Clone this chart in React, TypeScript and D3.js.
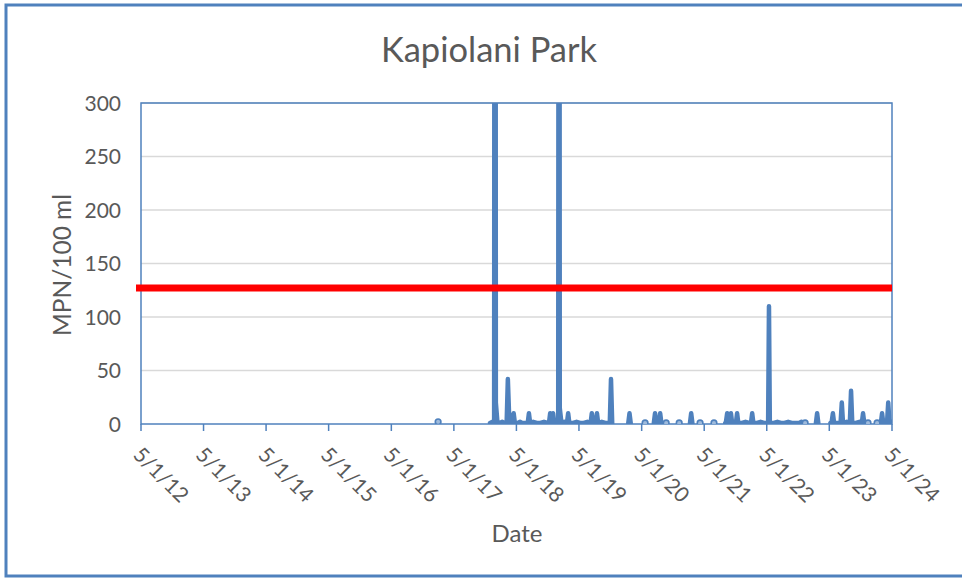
import React, { Component } from "react";
import * as d3 from "d3";

// enterococcus samples, null = no sample (gap in the line)
const sampleDates = [
	"2017-01-29", "2017-06-01",
	"2017-11-28", "2017-12-12", "2017-12-22", "2017-12-27", "2018-01-01", "2018-01-10", "2018-01-24", "2018-02-07",
	"2018-02-21", "2018-03-05", "2018-03-12", "2018-03-19", "2018-03-26", "2018-04-09", "2018-04-15", "2018-04-22",
	"2018-05-08", "2018-05-22", "2018-06-05", "2018-06-19", "2018-07-06", "2018-07-13", "2018-07-20", "2018-08-07",
	"2018-08-28", "2018-09-18", "2018-10-09", "2018-10-30", "2018-11-07", "2018-11-14", "2018-11-21", "2018-12-01",
	"2018-12-08", "2018-12-31", "2019-01-05", "2019-01-09", "2019-01-19", "2019-02-05", "2019-02-20", "2019-02-27",
	"2019-03-06", "2019-03-27", "2019-04-17", "2019-05-08", "2019-05-29", "2019-06-19", "2019-07-08", "2019-07-15",
	"2019-07-22", "2019-08-07", "2019-08-14", "2019-08-21", "2019-09-11", "2019-10-02", "2019-10-23", "2019-10-28",
	"2019-11-04", "2019-11-11", "2019-12-15",
	"2020-02-13", "2020-02-20", "2020-02-27", "2020-04-01",
	"2020-05-21", "2020-06-20",
	"2020-07-11", "2020-07-18", "2020-07-25", "2020-08-10", "2020-08-17", "2020-08-24", "2020-09-05",
	"2020-09-21", "2020-10-20",
	"2020-12-06", "2021-01-10",
	"2021-02-07", "2021-02-14", "2021-02-21", "2021-03-10",
	"2021-04-07", "2021-05-10",
	"2021-06-27", "2021-08-01",
	"2021-09-01", "2021-09-05", "2021-09-12", "2021-09-19", "2021-09-27", "2021-10-04", "2021-10-11", "2021-10-25",
	"2021-11-02", "2021-11-09", "2021-11-16", "2021-12-07", "2021-12-28", "2022-01-18", "2022-01-29", "2022-02-05",
	"2022-02-12", "2022-03-05", "2022-03-26", "2022-04-16", "2022-05-09", "2022-05-14", "2022-05-19", "2022-06-11",
	"2022-07-02", "2022-07-23", "2022-08-13", "2022-09-03", "2022-09-24", "2022-10-15", "2022-11-05", "2022-11-19",
	"2022-11-30",
	"2022-12-11", "2023-01-10",
	"2023-02-12", "2023-02-19", "2023-02-26", "2023-04-01",
	"2023-05-08", "2023-05-15", "2023-05-22", "2023-05-29", "2023-06-19", "2023-07-06", "2023-07-13", "2023-07-20",
	"2023-08-10", "2023-08-29", "2023-09-05", "2023-09-12", "2023-10-03", "2023-10-24", "2023-11-07", "2023-11-14",
	"2023-11-21", "2023-12-01",
	"2023-12-13", "2024-01-10",
	"2024-02-04", "2024-02-15",
	"2024-02-26", "2024-03-04", "2024-03-11", "2024-03-25", "2024-04-02", "2024-04-09", "2024-04-16", "2024-04-30",
];

const mpnValues = [
	2, null,
	1, 2, 1, 1700, 20, 2, 1, 2,
	1, 1, 42, 10, 1, 2, 10, 1,
	1, 2, 1, 1, 1, 10, 1, 2,
	1, 1, 2, 1, 1, 10, 1, 10,
	1, 1, 1400, 15, 1, 2, 1, 10,
	1, 1, 2, 1, 1, 2, 1, 10,
	1, 1, 10, 1, 2, 1, 1, 1,
	42, 1, null,
	1, 10, 1, null,
	1, null,
	1, 10, 1, 1, 10, 1, null,
	1, null,
	1, null,
	1, 10, 1, null,
	1, null,
	1, null,
	1, 2, 10, 1, 1, 10, 1, 2,
	1, 10, 1, 1, 2, 1, 1, 10,
	1, 1, 2, 1, 1, 110, 1, 1,
	2, 1, 1, 2, 1, 1, 1, 2,
	null,
	1, null,
	1, 10, 1, null,
	1, 2, 10, 1, 1, 1, 20, 1,
	2, 1, 31, 1, 1, 2, 1, 10,
	1, null,
	1, null,
	1, null,
	1, 10, 1, 2, 1, 20, 1, 2,
];

const tickDates = [
	"2012-05-01", "2013-05-01", "2014-05-01", "2015-05-01", "2016-05-01", "2017-05-01", "2018-05-01",
	"2019-05-01", "2020-05-01", "2021-05-01", "2022-05-01", "2023-05-01", "2024-05-01",
];
const yTicks = [0, 50, 100, 150, 200, 250, 300];
const standardLimit = 127;

const blue = "#4f81bd";
const textColor = "#595959";
const font = "Lato, 'Open Sans', sans-serif";

class App extends Component {
	svgRef = React.createRef<SVGSVGElement>();

	componentDidMount() {
		this.draw();
	}

	draw() {
		const svg = d3.select(this.svgRef.current);
		svg.selectAll("*").remove();
		const left = 141, right = 892, top = 103, bottom = 424;
		const parse = d3.timeParse("%Y-%m-%d");

		const x = d3.scaleTime()
			.domain([parse(tickDates[0]), parse(tickDates[tickDates.length - 1])])
			.range([left, right]);
		const y = d3.scaleLinear().domain([0, 300]).range([bottom, top]);

		const data = sampleDates.map((d, i) => ({ date: parse(d), v: mpnValues[i] }));
		// lone samples only show up as a marker
		const lone = data.filter((d, i) =>
			d.v != null &&
			(i === 0 || data[i - 1].v == null) &&
			(i === data.length - 1 || data[i + 1].v == null));

		// outer chart frame
		svg.append("rect")
			.attr("x", 6).attr("y", 5)
			.attr("width", 1000).attr("height", 571)
			.attr("fill", "white")
			.attr("stroke", blue)
			.attr("stroke-width", 3);

		svg.append("text")
			.attr("x", 489).attr("y", 62)
			.attr("text-anchor", "middle")
			.attr("font-family", font)
			.attr("font-size", 34.5)
			.attr("fill", textColor)
			.text("Kapiolani Park");

		// gridlines
		svg.append("g")
			.selectAll("line")
			.data(yTicks.slice(1))
			.enter()
			.append("line")
			.attr("x1", left).attr("x2", right)
			.attr("y1", (d) => y(d)).attr("y2", (d) => y(d))
			.attr("stroke", "#d9d9d9")
			.attr("stroke-width", 1.5);

		svg.append("g")
			.selectAll("text")
			.data(yTicks)
			.enter()
			.append("text")
			.attr("x", 121)
			.attr("y", (d) => y(d) + 7.5)
			.attr("text-anchor", "end")
			.attr("font-family", font)
			.attr("font-size", 21)
			.attr("fill", textColor)
			.text((d) => d);

		// x ticks
		const xt = svg.append("g");
		xt.selectAll("line")
			.data(tickDates)
			.enter()
			.append("line")
			.attr("x1", (d) => x(parse(d))).attr("x2", (d) => x(parse(d)))
			.attr("y1", bottom).attr("y2", bottom + 7)
			.attr("stroke", blue)
			.attr("stroke-width", 1.5);
		xt.selectAll("text")
			.data(tickDates)
			.enter()
			.append("text")
			.attr("transform", (d) => `translate(${x(parse(d)) - 9},${bottom + 32}) rotate(45)`)
			.attr("font-family", font)
			.attr("font-size", 21)
			.attr("fill", textColor)
			.text((d) => d3.timeFormat("%-m/%-d/%y")(parse(d)));

		svg.append("text")
			.attr("x", 517).attr("y", 542)
			.attr("text-anchor", "middle")
			.attr("font-family", font)
			.attr("font-size", 24)
			.attr("fill", textColor)
			.text("Date");

		svg.append("text")
			.attr("transform", "translate(71,265) rotate(-90)")
			.attr("text-anchor", "middle")
			.attr("font-family", font)
			.attr("font-size", 24.5)
			.attr("fill", textColor)
			.text("MPN/100 ml");

		// plot border
		svg.append("rect")
			.attr("x", left).attr("y", top)
			.attr("width", right - left).attr("height", bottom - top)
			.attr("fill", "none")
			.attr("stroke", blue)
			.attr("stroke-width", 1.5);

		svg.append("clipPath").attr("id", "plotclip")
			.append("rect")
			.attr("x", left).attr("y", top)
			.attr("width", right - left).attr("height", bottom - top);

		const g = svg.append("g").attr("clip-path", "url(#plotclip)");
		const line = d3.line()
			.defined((d) => d.v != null)
			.x((d) => x(d.date))
			.y((d) => y(d.v));
		g.append("path")
			.datum(data)
			.attr("d", line)
			.attr("fill", "none")
			.attr("stroke", blue)
			.attr("stroke-width", 4.5)
			.attr("stroke-linejoin", "round")
			.attr("stroke-linecap", "round");
		g.selectAll("circle")
			.data(lone)
			.enter()
			.append("circle")
			.attr("cx", (d) => x(d.date))
			.attr("cy", (d) => y(d.v))
			.attr("r", 2.8)
			.attr("fill", "#9fbbdc")
			.attr("stroke", blue)
			.attr("stroke-width", 1.6);

		// standard limit
		svg.append("line")
			.attr("x1", left - 5).attr("x2", right)
			.attr("y1", y(standardLimit)).attr("y2", y(standardLimit))
			.attr("stroke", "#ff0000")
			.attr("stroke-width", 7);
	}

	render() {
		return (
			<svg
				ref={this.svgRef}
				width={962}
				height={580}
				style={{ position: "absolute", left: 0, top: 0 }}
			></svg>
		);
	}
}

export default App;
